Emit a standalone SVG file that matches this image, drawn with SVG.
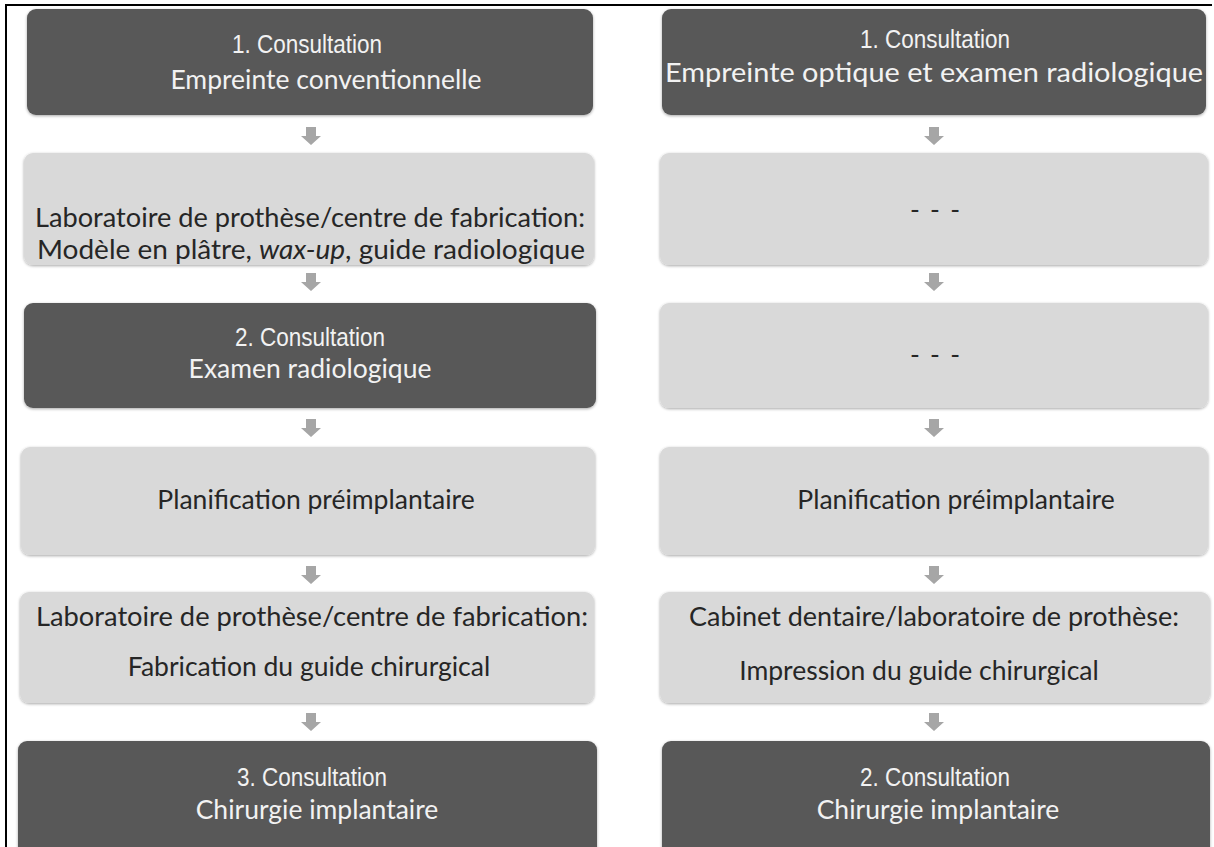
<svg xmlns="http://www.w3.org/2000/svg" xmlns:xlink="http://www.w3.org/1999/xlink" width="1214" height="847" viewBox="0 0 1214 847">
<style>
.dark{fill:#595959;}
.light{fill:#d9d9d9;}
.t1{font-family:"Liberation Sans",Arial,sans-serif;font-size:25px;fill:#f2f2f2;text-anchor:middle;}
.t2w{font-family:Lato,"Open Sans",sans-serif;font-size:26.5px;fill:#f2f2f2;text-anchor:middle;}
.t2{font-family:Lato,"Open Sans",sans-serif;font-size:26.5px;fill:#262626;text-anchor:middle;}
.arr{fill:#a6a6a6;}
</style>
<defs>
<filter id="sh" x="-5%" y="-5%" width="110%" height="115%">
<feGaussianBlur in="SourceAlpha" stdDeviation="1.5"/>
<feOffset dx="0" dy="1" result="b"/>
<feComponentTransfer><feFuncA type="linear" slope="0.35"/></feComponentTransfer>
<feMerge><feMergeNode/><feMergeNode in="SourceGraphic"/></feMerge>
</filter>
<polygon id="arrow" points="-5,0 5,0 5,9 10,9 0,18 -10,9 -5,9"/>
</defs>
<rect width="1214" height="847" fill="#ffffff"/>
<g id="frame" stroke="#000" stroke-width="2" fill="none">
<line x1="5" y1="5" x2="1212" y2="5"/>
<line x1="6" y1="5" x2="6" y2="847"/>
</g>

<g id="connectors" class="arr">
<use xlink:href="#arrow" x="311" y="127"/>
<use xlink:href="#arrow" x="311" y="273"/>
<use xlink:href="#arrow" x="311" y="419"/>
<use xlink:href="#arrow" x="311" y="566"/>
<use xlink:href="#arrow" x="311" y="713"/>
<use xlink:href="#arrow" x="934" y="127"/>
<use xlink:href="#arrow" x="934" y="273"/>
<use xlink:href="#arrow" x="934" y="419"/>
<use xlink:href="#arrow" x="934" y="566"/>
<use xlink:href="#arrow" x="934" y="713"/>
</g>

<g id="L1"><rect class="dark" x="27" y="9" width="566" height="106" rx="9" filter="url(#sh)"/>
<text class="t1" x="307" y="53" textLength="150" lengthAdjust="spacingAndGlyphs">1. Consultation</text>
<text class="t2w" x="326" y="89">Empreinte conventionnelle</text></g>

<g id="L2"><rect class="light" x="24" y="153" width="570" height="112" rx="9" filter="url(#sh)"/>
<text class="t2" x="310" y="227" textLength="550" lengthAdjust="spacingAndGlyphs">Laboratoire de prothèse/centre de fabrication:</text>
<text class="t2" x="311" y="259" textLength="548" lengthAdjust="spacingAndGlyphs">Modèle en plâtre, <tspan font-style="italic">wax-up</tspan>, guide radiologique</text></g>

<g id="L3"><rect class="dark" x="24" y="303" width="572" height="105" rx="9" filter="url(#sh)"/>
<text class="t1" x="310" y="346" textLength="150" lengthAdjust="spacingAndGlyphs">2. Consultation</text>
<text class="t2w" x="310" y="378">Examen radiologique</text></g>

<g id="L4"><rect class="light" x="21" y="447" width="574" height="108" rx="9" filter="url(#sh)"/>
<text class="t2" x="316" y="509">Planification préimplantaire</text></g>

<g id="L5"><rect class="light" x="20" y="592" width="574" height="111" rx="9" filter="url(#sh)"/>
<text class="t2" x="312" y="626" textLength="552" lengthAdjust="spacingAndGlyphs">Laboratoire de prothèse/centre de fabrication:</text>
<text class="t2" x="309" y="676">Fabrication du guide chirurgical</text></g>

<g id="L6"><rect class="dark" x="18" y="741" width="579" height="115" rx="9" filter="url(#sh)"/>
<text class="t1" x="312" y="786" textLength="150" lengthAdjust="spacingAndGlyphs">3. Consultation</text>
<text class="t2w" x="317" y="819">Chirurgie implantaire</text></g>

<g id="R1"><rect class="dark" x="662" y="9" width="544" height="106" rx="9" filter="url(#sh)"/>
<text class="t1" x="935" y="48" textLength="150" lengthAdjust="spacingAndGlyphs">1. Consultation</text>
<text class="t2w" x="934" y="82" textLength="538" lengthAdjust="spacingAndGlyphs">Empreinte optique et examen radiologique</text></g>

<g id="R2"><rect class="light" x="660" y="153" width="548" height="112" rx="9" filter="url(#sh)"/>
<text class="t2" x="935" y="219" textLength="50" lengthAdjust="spacing">- - -</text></g>

<g id="R3"><rect class="light" x="660" y="303" width="548" height="105" rx="9" filter="url(#sh)"/>
<text class="t2" x="935" y="364" textLength="50" lengthAdjust="spacing">- - -</text></g>

<g id="R4"><rect class="light" x="660" y="447" width="548" height="108" rx="9" filter="url(#sh)"/>
<text class="t2" x="956" y="509">Planification préimplantaire</text></g>

<g id="R5"><rect class="light" x="660" y="592" width="550" height="111" rx="9" filter="url(#sh)"/>
<text class="t2" x="934" y="626" textLength="490" lengthAdjust="spacingAndGlyphs">Cabinet dentaire/laboratoire de prothèse:</text>
<text class="t2" x="919" y="680">Impression du guide chirurgical</text></g>

<g id="R6"><rect class="dark" x="662" y="741" width="548" height="115" rx="9" filter="url(#sh)"/>
<text class="t1" x="935" y="786" textLength="150" lengthAdjust="spacingAndGlyphs">2. Consultation</text>
<text class="t2w" x="938" y="819">Chirurgie implantaire</text></g>
</svg>
